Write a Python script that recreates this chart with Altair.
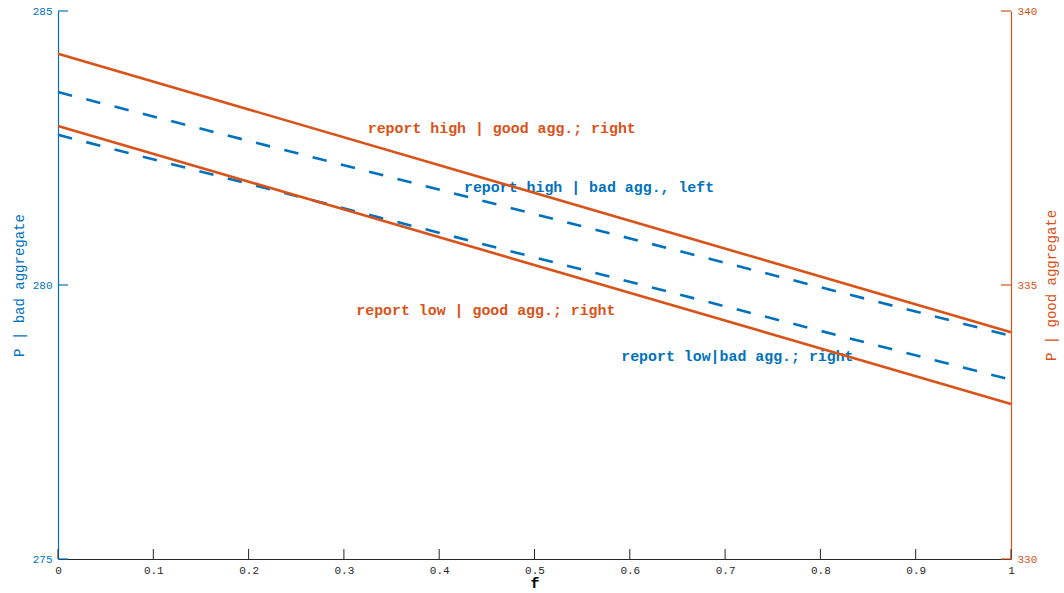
import altair as alt
import pandas as pd

# ---- data ----
f_vals = [0.0, 1.0]
bad_high = [283.52, 279.07]   # left axis, dashed blue
bad_low = [282.74, 278.27]    # left axis, dashed blue
good_high = [339.22, 334.14]  # right axis, solid orange
good_low = [337.90, 332.83]   # right axis, solid orange

x_ticks = [0, 0.1, 0.2, 0.3, 0.4, 0.5, 0.6, 0.7, 0.8, 0.9, 1]
left_ticks = [275, 280, 285]
right_ticks = [330, 335, 340]

left_labels = ["report high | bad agg., left", "report low|bad agg.; right"]
left_label_f = [0.426, 0.591]
left_label_y = [281.77, 278.69]
right_labels = ["report high | good agg.; right", "report low | good agg.; right"]
right_label_f = [0.325, 0.313]
right_label_y = [337.85, 334.53]

BLUE = "#0072BD"
ORANGE = "#D95319"
DARK = "#262626"
FONT = "Liberation Mono"
W, H = 953, 548
TL = 10  # tick length (px)

xscale = alt.Scale(domain=[0, 1], nice=False, zero=False)
lscale = alt.Scale(domain=[275, 285], nice=False, zero=False)
rscale = alt.Scale(domain=[330, 340], nice=False, zero=False)

x_axis = alt.Axis(values=x_ticks, format="~g", ticks=False, grid=False,
                  domainColor=DARK, domainWidth=1, labelColor=DARK, labelFont=FONT,
                  labelFontSize=11, labelPadding=5, title="f", titleFont=FONT,
                  titleFontSize=15, titleFontWeight="bold", titleColor="black",
                  titlePadding=0, labelFlush=False)
l_axis = alt.Axis(orient="left", values=left_ticks, ticks=False, grid=False,
                  domainColor=BLUE, domainWidth=1.2, labelColor=BLUE, labelFont=FONT,
                  labelFontSize=11, labelPadding=6, title="P | bad aggregate",
                  titleColor=BLUE, titleFont=FONT, titleFontSize=14,
                  titleFontWeight="normal", titlePadding=6, labelFlush=False)
r_axis = alt.Axis(orient="right", values=right_ticks, ticks=False, grid=False,
                  domainColor=ORANGE, domainWidth=1.2, labelColor=ORANGE, labelFont=FONT,
                  labelFontSize=11, labelPadding=6, title="P | good aggregate",
                  titleColor=ORANGE, titleFont=FONT, titleFontSize=14,
                  titleFontWeight="normal", titlePadding=8, titleAngle=270,
                  titleBaseline="top", labelFlush=False)

X = alt.X("x:Q", scale=xscale, axis=x_axis)
YL = alt.Y("y:Q", scale=lscale, axis=l_axis)
YR = alt.Y("y:Q", scale=rscale, axis=r_axis)

bad_df = pd.DataFrame({
    "x": f_vals * 2,
    "y": bad_high + bad_low,
    "s": ["high"] * 2 + ["low"] * 2,
})
good_df = pd.DataFrame({
    "x": f_vals * 2,
    "y": good_high + good_low,
    "s": ["high"] * 2 + ["low"] * 2,
})

bad_lines = alt.Chart(bad_df).mark_line(
    color=BLUE, strokeWidth=2.6, strokeDash=[14.5, 14.7], strokeCap="butt"
).encode(x=X, y=YL, detail="s:N")
good_lines = alt.Chart(good_df).mark_line(
    color=ORANGE, strokeWidth=2.6
).encode(x=X, y=YR, detail="s:N")

bad_text = alt.Chart(pd.DataFrame({"x": left_label_f, "y": left_label_y, "t": left_labels})).mark_text(
    color=BLUE, font=FONT, fontSize=14.9, fontWeight="bold", align="left", baseline="middle"
).encode(x=X, y=YL, text="t:N")
good_text = alt.Chart(pd.DataFrame({"x": right_label_f, "y": right_label_y, "t": right_labels})).mark_text(
    color=ORANGE, font=FONT, fontSize=14.9, fontWeight="bold", align="left", baseline="middle"
).encode(x=X, y=YR, text="t:N")

# inward-pointing ticks
l_tick = alt.Chart(pd.DataFrame({"y": left_ticks})).mark_rule(color=BLUE, strokeWidth=1.2).encode(
    y=YL, x=alt.value(0), x2=alt.value(TL))
r_tick = alt.Chart(pd.DataFrame({"y": right_ticks})).mark_rule(color=ORANGE, strokeWidth=1.2).encode(
    y=YR, x=alt.value(W - TL), x2=alt.value(W))
x_tick = alt.Chart(pd.DataFrame({"x": x_ticks})).mark_rule(color=DARK, strokeWidth=1).encode(
    x=X, y=alt.value(H), y2=alt.value(H - TL))

left = alt.layer(x_tick, bad_lines, bad_text, l_tick)
right = alt.layer(good_lines, good_text, r_tick)

chart = alt.layer(left, right).resolve_scale(y="independent").properties(
    width=W, height=H,
    autosize=alt.AutoSizeParams(type="none"),
    padding={"left": 58, "top": 11, "right": 53, "bottom": 34},
    background="white",
).configure_view(stroke=None)

chart.save("out.html", embed_options={"renderer": "svg", "actions": False})
